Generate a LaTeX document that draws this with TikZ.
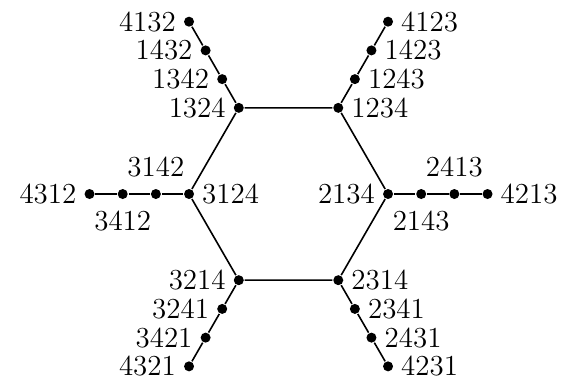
\documentclass[tikz,border=0pt]{standalone}
\usepackage{tikz}

\begin{document}
\begin{tikzpicture}[x=0.5829cm,y=0.5829cm,line width=0.8pt,
  dot/.style={circle,fill=black,inner sep=0pt,minimum size=5pt},
  every label/.style={font=\fontsize{14.5}{16}\selectfont,inner sep=3.3pt},
  lbl/.style={label distance=2pt}]
\useasboundingbox (-8.70,-5.58) rectangle (8.215,5.85);

% hexagon
\node[dot,label=left:1324] (p1324) at (120:3) {};
\node[dot,label=right:1234] (p1234) at (60:3) {};
\node[dot,label=left:2134] (p2134) at (0:3) {};
\node[dot,label=right:2314] (p2314) at (300:3) {};
\node[dot,label=left:3214] (p3214) at (240:3) {};
\node[dot,label=right:3124] (p3124) at (180:3) {};
\draw (p1324) -- (p1234) -- (p2134) -- (p2314) -- (p3214) -- (p3124) -- (p1324);

% upper left branch
\node[dot,label=left:1342] (p1342) at (120:4) {};
\node[dot,label=left:1432] (p1432) at (120:5) {};
\node[dot,label=left:4132] (p4132) at (120:6) {};
\draw (p1324) -- (p1342) -- (p1432) -- (p4132);

% upper right branch
\node[dot,label=right:1243] (p1243) at (60:4) {};
\node[dot,label=right:1423] (p1423) at (60:5) {};
\node[dot,label=right:4123] (p4123) at (60:6) {};
\draw (p1234) -- (p1243) -- (p1423) -- (p4123);

% left branch
\node[dot,label={[lbl]above:3142}] (p3142) at (180:4) {};
\node[dot,label={[lbl]below:3412}] (p3412) at (180:5) {};
\node[dot,label=left:4312] (p4312) at (180:6) {};
\draw (p3124) -- (p3142) -- (p3412) -- (p4312);

% right branch
\node[dot,label={[lbl]below:2143}] (p2143) at (0:4) {};
\node[dot,label={[lbl]above:2413}] (p2413) at (0:5) {};
\node[dot,label=right:4213] (p4213) at (0:6) {};
\draw (p2134) -- (p2143) -- (p2413) -- (p4213);

% lower left branch
\node[dot,label=left:3241] (p3241) at (240:4) {};
\node[dot,label=left:3421] (p3421) at (240:5) {};
\node[dot,label=left:4321] (p4321) at (240:6) {};
\draw (p3214) -- (p3241) -- (p3421) -- (p4321);

% lower right branch
\node[dot,label=right:2341] (p2341) at (300:4) {};
\node[dot,label=right:2431] (p2431) at (300:5) {};
\node[dot,label=right:4231] (p4231) at (300:6) {};
\draw (p2314) -- (p2341) -- (p2431) -- (p4231);
\end{tikzpicture}
\end{document}
